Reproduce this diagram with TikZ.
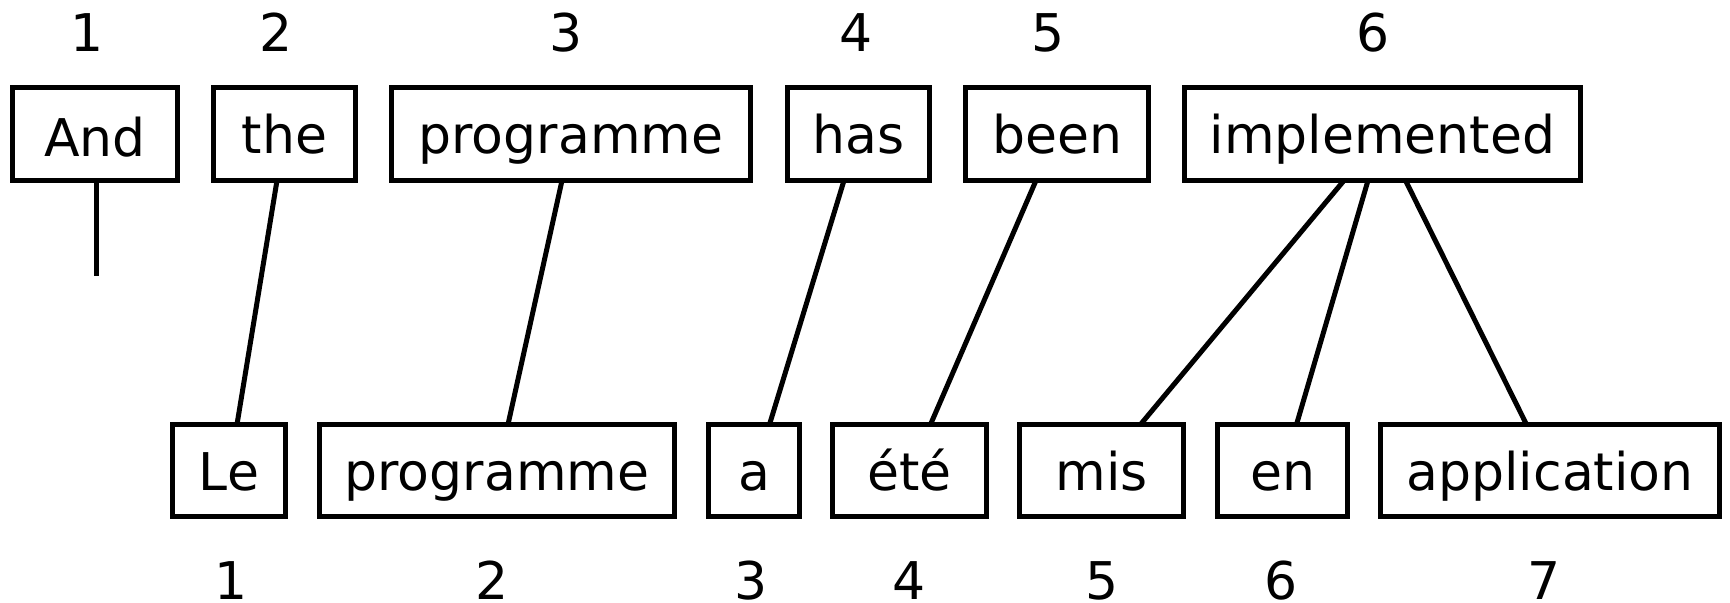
\documentclass[tikz,border=0pt]{standalone}
\usepackage{fontspec}
\setmainfont{DejaVu Sans}
\begin{document}
\begin{tikzpicture}[x=0.5pt,y=-0.5pt,
  every node/.style={font=\fontsize{26pt}{30pt}\selectfont},
  word/.style={draw,line width=2.5pt,inner sep=0pt,outer sep=0pt,text height=20pt,text depth=0pt},
  toprow/.style={word,minimum height=46.5pt},
  botrow/.style={word,minimum height=46pt},
  idx/.style={anchor=base,inner sep=0pt},
  link/.style={line width=2.5pt}]
\useasboundingbox (0,0) rectangle (1730,603);
% top row
\node[toprow,minimum width=82.5pt,text height=23pt] (and) at (95,134) {And};
\node[toprow,minimum width=71pt] (the) at (284.5,134) {the};
\node[toprow,minimum width=179.5pt] (prog) at (571,134) {programme};
\node[toprow,minimum width=71pt] (has) at (858.5,134) {has};
\node[toprow,minimum width=91.5pt] (been) at (1057,134) {been};
\node[toprow,minimum width=198pt] (impl) at (1382.5,134) {implemented};
% bottom row
\node[botrow,minimum width=56.5pt] (le) at (229,470.5) {Le};
\node[botrow,minimum width=177.5pt] (progfr) at (497,470.5) {programme};
\node[botrow,minimum width=45.5pt] (a) at (754,470.5) {a};
\node[botrow,minimum width=77pt] (ete) at (909.5,470.5) {été};
\node[botrow,minimum width=82pt] (mis) at (1101.5,470.5) {mis};
\node[botrow,minimum width=65pt] (en) at (1282.5,470.5) {en};
\node[botrow,minimum width=169.5pt] (appl) at (1550,470.5) {application};
% top indices
\node[idx] (t1) at (87.5,52) {1};
\node[idx] (t2) at (276,52) {2};
\node[idx] (t3) at (566,52) {3};
\node[idx] (t4) at (856,52) {4};
\node[idx] (t5) at (1048,52) {5};
\node[idx] (t6) at (1373,52) {6};
% bottom indices
\node[idx] (b1) at (231,600) {1};
\node[idx] (b2) at (492,600) {2};
\node[idx] (b3) at (751,600) {3};
\node[idx] (b4) at (909,600) {4};
\node[idx] (b5) at (1102,600) {5};
\node[idx] (b6) at (1281,600) {6};
\node[idx] (b7) at (1544,600) {7};
% connectors
\coordinate (andend) at (96,276);
\draw[link] ([xshift=0.5pt]and.south) -- (andend);
\draw[link] ([xshift=-3.75pt]the.south) -- ([xshift=4pt]le.north);
\draw[link] ([xshift=-4.5pt]prog.south) -- ([xshift=5.5pt]progfr.north);
\draw[link] ([xshift=-7.25pt]has.south) -- ([xshift=7.75pt]a.north);
\draw[link] ([xshift=-10.5pt]been.south) -- ([xshift=10.5pt]ete.north);
\draw[link] ([xshift=-19.25pt]impl.south) -- ([xshift=19.5pt]mis.north);
\draw[link] ([xshift=-7.25pt]impl.south) -- ([xshift=7pt]en.north);
\draw[link] ([xshift=11.5pt]impl.south) -- ([xshift=-11.75pt]appl.north);
\end{tikzpicture}
\end{document}
